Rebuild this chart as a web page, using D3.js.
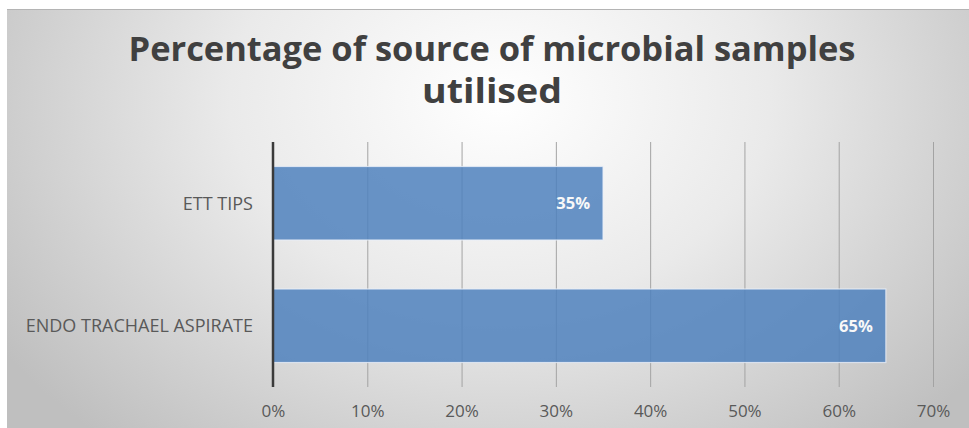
<!DOCTYPE html>
<html>
<head>
<meta charset="utf-8">
<script src="https://cdn.jsdelivr.net/npm/d3@7"></script>
<style>
  html, body { margin: 0; padding: 0; background: #ffffff; }
  svg { display: block; }
</style>
</head>
<body>
<svg id="chart" width="969" height="428"></svg>
<script>
// Chart data
const categories = ["ETT TIPS", "ENDO TRACHAEL ASPIRATE"];
const values = [35, 65];
const tickValues = [0, 10, 20, 30, 40, 50, 60, 70];
const titleLines = ["Percentage of source of microbial samples", "utilised"];

const svg = d3.select("#chart");
const W = 969, H = 428;

// Panel background with soft radial shading
const defs = svg.append("defs");
const grad = defs.append("radialGradient")
  .attr("id", "bg")
  .attr("gradientUnits", "userSpaceOnUse")
  .attr("cx", 500).attr("cy", 100).attr("r", 600)
  .attr("gradientTransform", "translate(500,100) scale(1,0.75) translate(-500,-100)");
grad.append("stop").attr("offset", "0%").attr("stop-color", "#ffffff");
grad.append("stop").attr("offset", "45%").attr("stop-color", "#eaeaea");
grad.append("stop").attr("offset", "100%").attr("stop-color", "#bfbfbf");

svg.append("rect")
  .attr("x", 7).attr("y", 9).attr("width", W - 7).attr("height", H - 9)
  .attr("fill", "url(#bg)");
svg.append("line")
  .attr("x1", 7).attr("x2", W).attr("y1", 9.5).attr("y2", 9.5)
  .attr("stroke", "#b4b4b4").attr("stroke-width", 1);

// Title
const title = svg.append("text")
  .attr("text-anchor", "middle")
  .attr("font-family", "'Open Sans', sans-serif")
  .attr("font-weight", 700)
  .attr("font-size", 34)
  .attr("fill", "#404040");
title.append("tspan").attr("x", 492).attr("y", 61)
  .attr("textLength", 727).attr("lengthAdjust", "spacingAndGlyphs")
  .text(titleLines[0]);
title.append("tspan").attr("x", 492).attr("y", 103)
  .attr("textLength", 140).attr("lengthAdjust", "spacingAndGlyphs")
  .text(titleLines[1]);

// Plot area
const plot = { left: 273, right: 933, top: 142, bottom: 387 };

const x = d3.scaleLinear().domain([0, 70]).range([plot.left, plot.right]);
const y = d3.scaleBand().domain(categories)
  .range([plot.top, plot.bottom]).paddingInner(0.4).paddingOuter(0.2);

// Vertical gridlines
svg.append("g")
  .selectAll("line")
  .data(tickValues.filter(d => d > 0))
  .join("line")
  .attr("x1", d => x(d) + 0.5).attr("x2", d => x(d) + 0.5)
  .attr("y1", plot.top).attr("y2", plot.bottom)
  .attr("stroke", "#a3a3a3").attr("stroke-width", 1);

// Bars (slightly translucent so the gridlines show through)
svg.append("g")
  .selectAll("rect")
  .data(categories)
  .join("rect")
  .attr("x", x(0))
  .attr("y", d => y(d))
  .attr("width", (d, i) => x(values[i]) - x(0))
  .attr("height", y.bandwidth())
  .attr("fill", "#4f81bd").attr("fill-opacity", 0.85)
  .attr("stroke", "#e8eef7").attr("stroke-width", 1.2).attr("stroke-opacity", 0.8);

// Value labels inside the bar ends
svg.append("g")
  .selectAll("text")
  .data(categories)
  .join("text")
  .attr("x", (d, i) => x(values[i]) - 13)
  .attr("y", d => y(d) + y.bandwidth() / 2 + 6)
  .attr("text-anchor", "end")
  .attr("font-family", "'Open Sans', sans-serif")
  .attr("font-weight", 700)
  .attr("font-size", 16.5)
  .attr("fill", "#f8f8f8")
  .text((d, i) => values[i] + "%");

// Category axis
const yAxis = d3.axisLeft(y).tickSize(0).tickPadding(20);
const gy = svg.append("g").attr("transform", `translate(${plot.left},0)`).call(yAxis);
gy.select(".domain").remove();
gy.selectAll("text")
  .attr("font-family", "'Open Sans', sans-serif")
  .attr("font-size", 18)
  .attr("fill", "#595959")
  .attr("dy", "0.35em");

// Left axis line
svg.append("line")
  .attr("x1", plot.left).attr("x2", plot.left)
  .attr("y1", plot.top).attr("y2", plot.bottom)
  .attr("stroke", "#3a3a3a").attr("stroke-width", 2.5);

// Percentage axis labels
const xAxis = d3.axisBottom(x).tickValues(tickValues).tickFormat(d => d + "%").tickSize(0).tickPadding(0);
const gx = svg.append("g").attr("transform", `translate(0,${plot.bottom + 30})`).call(xAxis);
gx.select(".domain").remove();
gx.selectAll("text")
  .attr("font-family", "'Open Sans', sans-serif")
  .attr("font-size", 17)
  .attr("fill", "#595959")
  .attr("dy", 0);
</script>
</body>
</html>
